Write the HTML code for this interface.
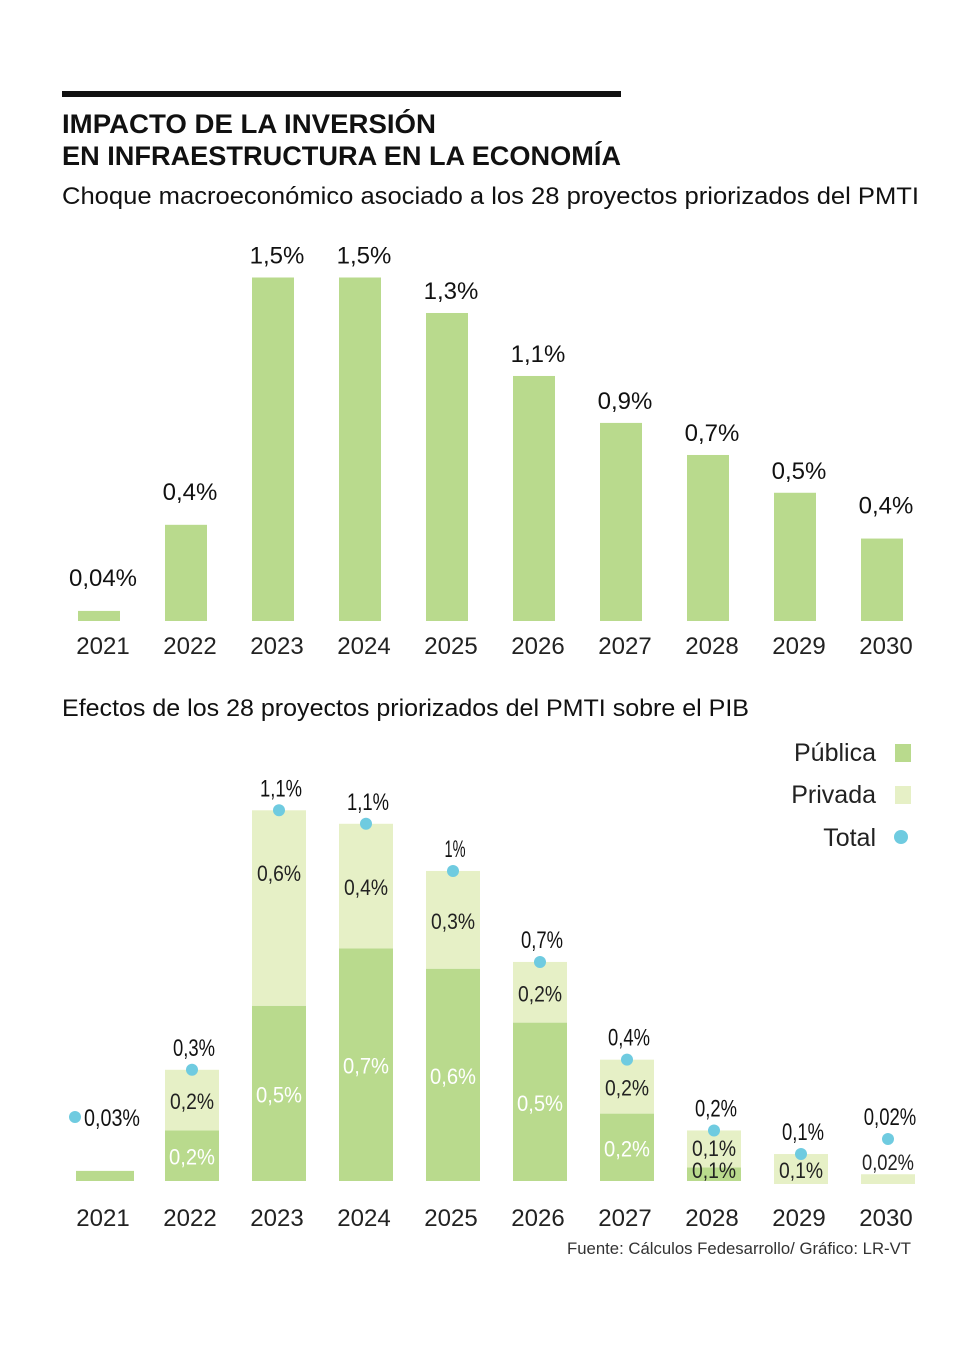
<!DOCTYPE html>
<html><head><meta charset="utf-8"><style>
html,body{margin:0;padding:0;background:#fff}
svg{display:block;font-family:"Liberation Sans",sans-serif}
</style></head><body>
<svg id="chart" width="980" height="1346" viewBox="0 0 980 1346" xmlns="http://www.w3.org/2000/svg">
<rect x="62" y="91" width="559" height="6" fill="#111"/>
<text x="62" y="133" font-size="27" font-weight="bold" fill="#111" textLength="374" lengthAdjust="spacingAndGlyphs">IMPACTO DE LA INVERSIÓN</text>
<text x="62" y="165" font-size="27" font-weight="bold" fill="#111" textLength="559" lengthAdjust="spacingAndGlyphs">EN INFRAESTRUCTURA EN LA ECONOMÍA</text>
<text x="62" y="204" font-size="24" fill="#111" textLength="857" lengthAdjust="spacingAndGlyphs">Choque macroeconómico asociado a los 28 proyectos priorizados del PMTI</text>
<text x="62" y="716" font-size="24" fill="#111" textLength="687" lengthAdjust="spacingAndGlyphs">Efectos de los 28 proyectos priorizados del PMTI sobre el PIB</text>
<g>
<text x="876" y="761" font-size="25" fill="#222" text-anchor="end">Pública</text>
<rect x="895" y="744" width="16" height="18" fill="#b9da8d"/>
<text x="876" y="803" font-size="25" fill="#222" text-anchor="end">Privada</text>
<rect x="895" y="786" width="16" height="18" fill="#e6f0c6"/>
<text x="876" y="846" font-size="25" fill="#222" text-anchor="end">Total</text>
<circle cx="901" cy="837" r="7" fill="#6fcbe0"/>
</g>
<text x="911" y="1254" font-size="17" fill="#333" text-anchor="end" textLength="344" lengthAdjust="spacingAndGlyphs">Fuente: Cálculos Fedesarrollo/ Gráfico: LR-VT</text>
<g id="c1"></g>
<g id="c2"></g>
</svg>
<script>
const years = ["2021","2022","2023","2024","2025","2026","2027","2028","2029","2030"];
const shockValues = [0.044,0.42,1.5,1.5,1.345,1.07,0.865,0.725,0.56,0.36];
const shockLabels = ["0,04%","0,4%","1,5%","1,5%","1,3%","1,1%","0,9%","0,7%","0,5%","0,4%"];
const publicValues = [0.03,0.15,0.52,0.69,0.63,0.47,0.2,0.04,0,0];
const privateValues = [0,0.18,0.58,0.37,0.29,0.18,0.16,0.11,0.08,0.02];
const publicLabels = ["","0,2%","0,5%","0,7%","0,6%","0,5%","0,2%","0,1%","",""];
const privateLabels = ["","0,2%","0,6%","0,4%","0,3%","0,2%","0,2%","0,1%","0,1%","0,02%"];
const totalLabels = ["0,03%","0,3%","1,1%","1,1%","1%","0,7%","0,4%","0,2%","0,1%","0,02%"];

const NS="http://www.w3.org/2000/svg";
function mk(tag,attrs,parent,txt){const e=document.createElementNS(NS,tag);for(const k in attrs)e.setAttribute(k,attrs[k]);if(txt!==undefined)e.textContent=txt;parent.appendChild(e);return e;}
const x1=i=>99+i*87.0;
const y1=v=>621-v*229;
const x2=i=>105+i*87.0;
const y2=v=>1181-v*337;

const c1=document.getElementById('c1');
shockValues.forEach((v,i)=>{
  const r=mk('rect',{x:x1(i)-21,y:y1(v),width:42,height:621-y1(v),fill:'#b9da8d'},c1);
  
  
  const t=mk('text',{x:x1(i)+4,y:y1(v)-(v<0.5?25:14),'font-size':24,fill:'#111','text-anchor':'middle'},c1,shockLabels[i]);
  
  
  const yl=mk('text',{x:x1(i)+4,y:654,'font-size':24,fill:'#222','text-anchor':'middle'},c1,years[i]);
  
  
});

const c2=document.getElementById('c2');
years.forEach((yr,i)=>{
  const pu=publicValues[i],pr=privateValues[i],tot=pu+pr;
  const w=i===0?58:54;
  if(pu>0){
    const r=mk('rect',{x:x2(i)-w/2,y:y2(pu),width:w,height:1181-y2(pu),fill:'#b9da8d'},c2);
    
    
  }
  if(pr>0){
    const r=mk('rect',{x:x2(i)-w/2,y:y2(tot),width:w,height:y2(pu)-y2(tot)+(pu===0?3:0),fill:'#e6f0c6'},c2);
    
    
  }
  if(publicLabels[i]&&pu>0.1){
    const t=mk('text',{x:x2(i),y:(y2(pu)+1181)/2+9,'font-size':22,fill:'#fff','text-anchor':'middle',textLength:46,lengthAdjust:'spacingAndGlyphs'},c2,publicLabels[i]);
    
    
  }
  if(privateLabels[i]){
    let ly=pr>0.12?(y2(tot)+y2(pu))/2+9:y2(tot)+24;
    if(i===7)ly=1156;
    if(i===2)ly=881;
    if(i===9)ly=1170;
    const t=mk('text',{x:x2(i),y:ly,'font-size':22,fill:'#222','text-anchor':'middle',textLength:i===9?52:44,lengthAdjust:'spacingAndGlyphs'},c2,privateLabels[i]);
    
    
  }
  if(i===7){
    const t=mk('text',{x:x2(i),y:1178,'font-size':22,fill:'#222','text-anchor':'middle',textLength:44,lengthAdjust:'spacingAndGlyphs'},c2,publicLabels[i]);
    
    
  }
  let dx=x2(i),dy=y2(tot);
  if(i===0){dx=75;dy=1117;}
  if(i===9){dy=1139;}
  const tlen=totalLabels[i].length*10.5;
  const tl=i===0?mk('text',{x:84,y:1126,'font-size':24,fill:'#111',textLength:56,lengthAdjust:'spacingAndGlyphs'},c2,totalLabels[i])
    :mk('text',{x:dx+2,y:dy-14,'font-size':24,fill:'#111','text-anchor':'middle',textLength:tlen,lengthAdjust:'spacingAndGlyphs'},c2,totalLabels[i]);
  
  
  const d=mk('circle',{cx:dx,cy:dy,r:6,fill:'#6fcbe0'},c2);
  
  
  const yl=mk('text',{x:x1(i)+4,y:1226,'font-size':24,fill:'#222','text-anchor':'middle'},c2,yr);
  
  
});
</script>
</body></html>
